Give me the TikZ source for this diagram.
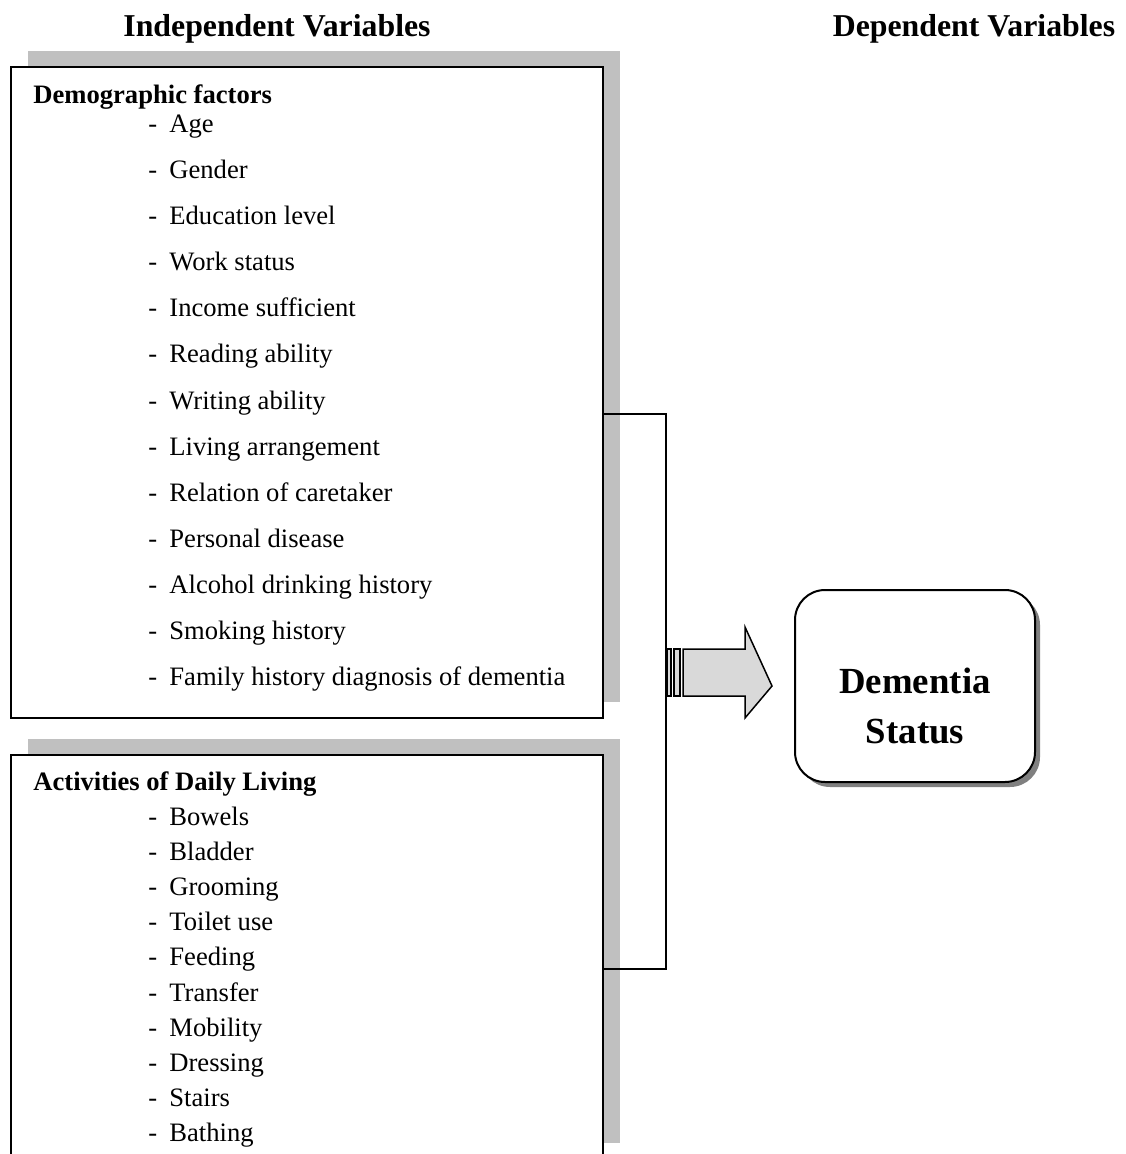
\documentclass[tikz,border=0pt]{standalone}
\usepackage{fontspec}
\setmainfont{Liberation Serif}
\usetikzlibrary{shadows}
\definecolor{shadowgray}{HTML}{C0C0C0}
\definecolor{arrowgray}{HTML}{D9D9D9}
\definecolor{darkshadow}{HTML}{808080}

\begin{document}
\begin{tikzpicture}[x=0.5pt,y=-0.5pt]
    \tikzstyle{varbox}=[draw, line width=1pt, fill=white, inner sep=0pt,
        minimum width=296pt,
        drop shadow={shadow xshift=8.5pt, shadow yshift=8pt, fill=shadowgray, opacity=1}]
    \tikzstyle{outbox}=[draw, line width=1pt, fill=white, inner sep=0pt,
        rounded corners=15pt, minimum width=120pt, minimum height=96pt,
        drop shadow={shadow xshift=2.5pt, shadow yshift=-2.5pt, fill=darkshadow, opacity=1}]
    \tikzstyle{head}=[anchor=base, inner sep=0pt, font=\fontsize{15.9}{19}\selectfont\bfseries]
    \tikzstyle{group}=[anchor=base west, inner sep=0pt, font=\fontsize{13.3}{16}\selectfont\bfseries]
    \tikzstyle{item}=[anchor=base west, inner sep=0pt, font=\fontsize{13.3}{16}\selectfont]
    \tikzstyle{outtext}=[anchor=base, inner sep=0pt, font=\fontsize{18.4}{22}\selectfont\bfseries]
    \tikzstyle{link}=[line width=0.75pt]
    \tikzstyle{bigarrow}=[draw, line width=0.75pt, fill=arrowgray, line join=miter]

    \clip (0,0) rectangle (1125,1154);

    % Headings
    \node[head] (ivhead) at (277,37) {Independent Variables};
    \node[head] (dvhead) at (974,37) {Dependent Variables};

    % Demographic factors
    \node[varbox, minimum height=325.5pt] (demo) at (307,392.5) {};
    \node[group] (demohead) at (33,104) {Demographic factors};
    \foreach \txt [count=\k from 0] in {Age, Gender, Education level, Work status,
        Income sufficient, Reading ability, Writing ability, Living arrangement,
        Relation of caretaker, Personal disease, Alcohol drinking history,
        Smoking history, Family history diagnosis of dementia} {
        \node[item] (dmdash\k) at (148,{133+46*\k}) {-};
        \node[item] (dm\k) at (169,{133+46*\k}) {\txt};
    }

    % Activities of daily living
    \node[varbox, minimum height=202pt] (adl) at (307,957) {};
    \node[group] (adlhead) at (33,790) {Activities of Daily Living};
    \foreach \txt [count=\k from 0] in {Bowels, Bladder, Grooming, Toilet use,
        Feeding, Transfer, Mobility, Dressing, Stairs, Bathing} {
        \node[item] (adash\k) at (148,{825+35.2*\k}) {-};
        \node[item] (ad\k) at (169,{825+35.2*\k}) {\txt};
    }

    % Dependent variable
    \node[outbox] (status) at (915,686) {};
    \node[outtext] (stat1) at (915,693) {Dementia};
    \node[outtext] (stat2) at (915,743) {Status};

    % Bracket joining both groups
    \coordinate (jtop) at (666,414);
    \coordinate (jbot) at (666,969);
    \draw[link] (demo.east |- jtop) -- (jtop) -- (jbot) -- (adl.east |- jbot);

    % Block arrow
    \draw[bigarrow] (667,649) rectangle (671,696);
    \draw[bigarrow] (674,649) rectangle (680,696);
    \draw[bigarrow] (683,649) -- (745,649) -- (745,627) -- (status.west -| 772,672)
        -- (745,718) -- (745,696) -- (683,696) -- cycle;
\end{tikzpicture}
\end{document}
